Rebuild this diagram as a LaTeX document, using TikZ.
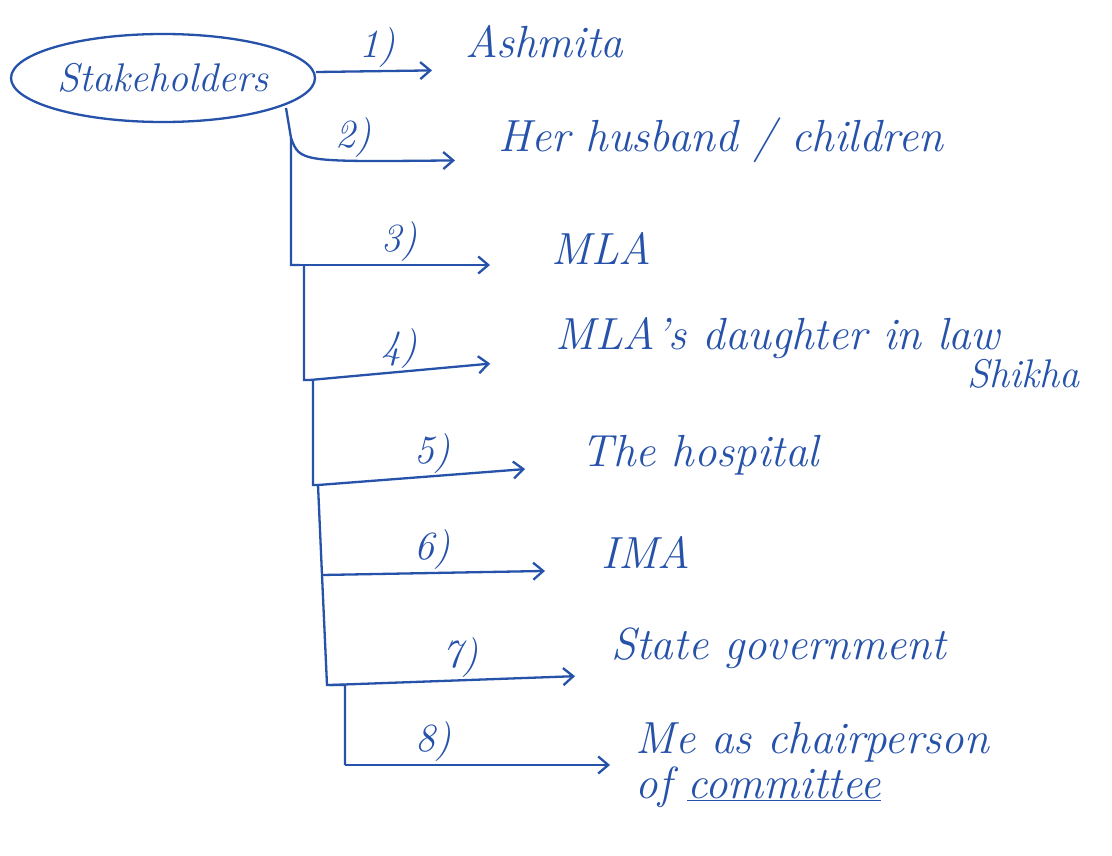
\documentclass[tikz,border=0pt]{standalone}
\usepackage{fontspec}
\usepackage{tikz}
\usetikzlibrary{arrows.meta,shapes.geometric}

\definecolor{ink}{RGB}{38,82,170}

\tikzset{
  hand/.style={text=ink, font=\fontsize{45}{52}\selectfont\itshape},
  num/.style={text=ink, font=\fontsize{40}{44}\selectfont\itshape, inner sep=2pt},
  link/.style={draw=ink, line width=2.3pt,
    -{Straight Barb[length=10pt,width=17pt]}},
  trunk/.style={draw=ink, line width=2.3pt},
}

\begin{document}
\begin{tikzpicture}[x=1pt,y=-1pt]
  \fill[white] (0,0) rectangle (1112,856);
  \useasboundingbox (0,0) rectangle (1112,856);

  % the hub
  \node[hand, font=\fontsize{40}{46}\selectfont\itshape, draw=ink, line width=2.3pt,
        ellipse, inner sep=0pt, minimum width=304pt, minimum height=88pt] (hub) at (163,78) {Stakeholders};

  % the stakeholders
  \node[hand, anchor=west] (ashmita) at (462,42) {Ashmita};
  \node[hand, anchor=west] (family) at (495,140) {Her husband / children};
  \node[hand, anchor=west] (mla) at (548,248) {MLA};
  \node[hand, anchor=west] (shikha) at (552,338) {MLA's daughter in law};
  \node[hand, font=\fontsize{40}{46}\selectfont\itshape, anchor=north west] (shikhaname)
    at ([xshift=-40pt,yshift=6pt]shikha.south east) {Shikha};
  \node[hand, anchor=west] (hospital) at (578,455) {The hospital};
  \node[hand, anchor=west] (ima) at (598,552) {IMA};
  \node[hand, anchor=west] (govt) at (608,648) {State government};
  \node[hand, anchor=west] (me) at (632,742) {Me as chairperson};
  \node[hand, anchor=north west] (committee) at ([yshift=2pt]me.south west) {of \underline{committee}};

  % the trunk
  \coordinate (t1) at (286,108);
  \coordinate (t2) at (291,138);
  \coordinate (t3) at (300,265);
  \coordinate (t4) at (310,380);
  \coordinate (t5) at (318,485);
  \coordinate (t6) at (322,575);
  \coordinate (t7) at (330,685);
  \coordinate (t8) at (345,765);

  \draw[trunk] (t1) -- (t2) -- ([xshift=-9pt]t3) -- (t3)
    ([xshift=4pt]t3) |- ([xshift=-1pt]t4) -- (t4)
    ([xshift=3pt]t4) |- (t5)
    (t5) -- (t6)
    (t6) -- ([xshift=-3pt]t7) -- (t7)
    (t7) -| (t8);

  % the branches
  \draw[link, shorten >=30pt] ([yshift=6pt]hub.east) -- node[num, above, pos=0.42] {1)} ([yshift=-28pt]ashmita.west);
  \draw[link, shorten >=40pt] (t2) .. controls (300,162) .. node[num, above, pos=0.65] {2)} ([yshift=-20pt]family.west);
  \draw[link, shorten >=58pt] (t3) -- node[num, above, pos=0.4] {3)} ([yshift=-17pt]mla.west);
  \draw[link, shorten >=62pt] (t4) -- node[num, above, pos=0.37] {4)} ([yshift=-20pt]shikha.west);
  \draw[link, shorten >=53pt] (t5) -- node[num, above, pos=0.44] {5)} ([yshift=-10pt]hospital.west);
  \draw[link, shorten >=53pt] (t6) -- node[num, above, pos=0.4] {6)} ([yshift=-18pt]ima.west);
  \draw[link, shorten >=33pt] (t7) -- node[num, above, pos=0.47] {7)} ([yshift=-27pt]govt.west);
  \draw[link, shorten >=22pt] (t8) -- node[num, above, pos=0.31] {8)} ([yshift=-23pt]me.west);
\end{tikzpicture}
\end{document}
